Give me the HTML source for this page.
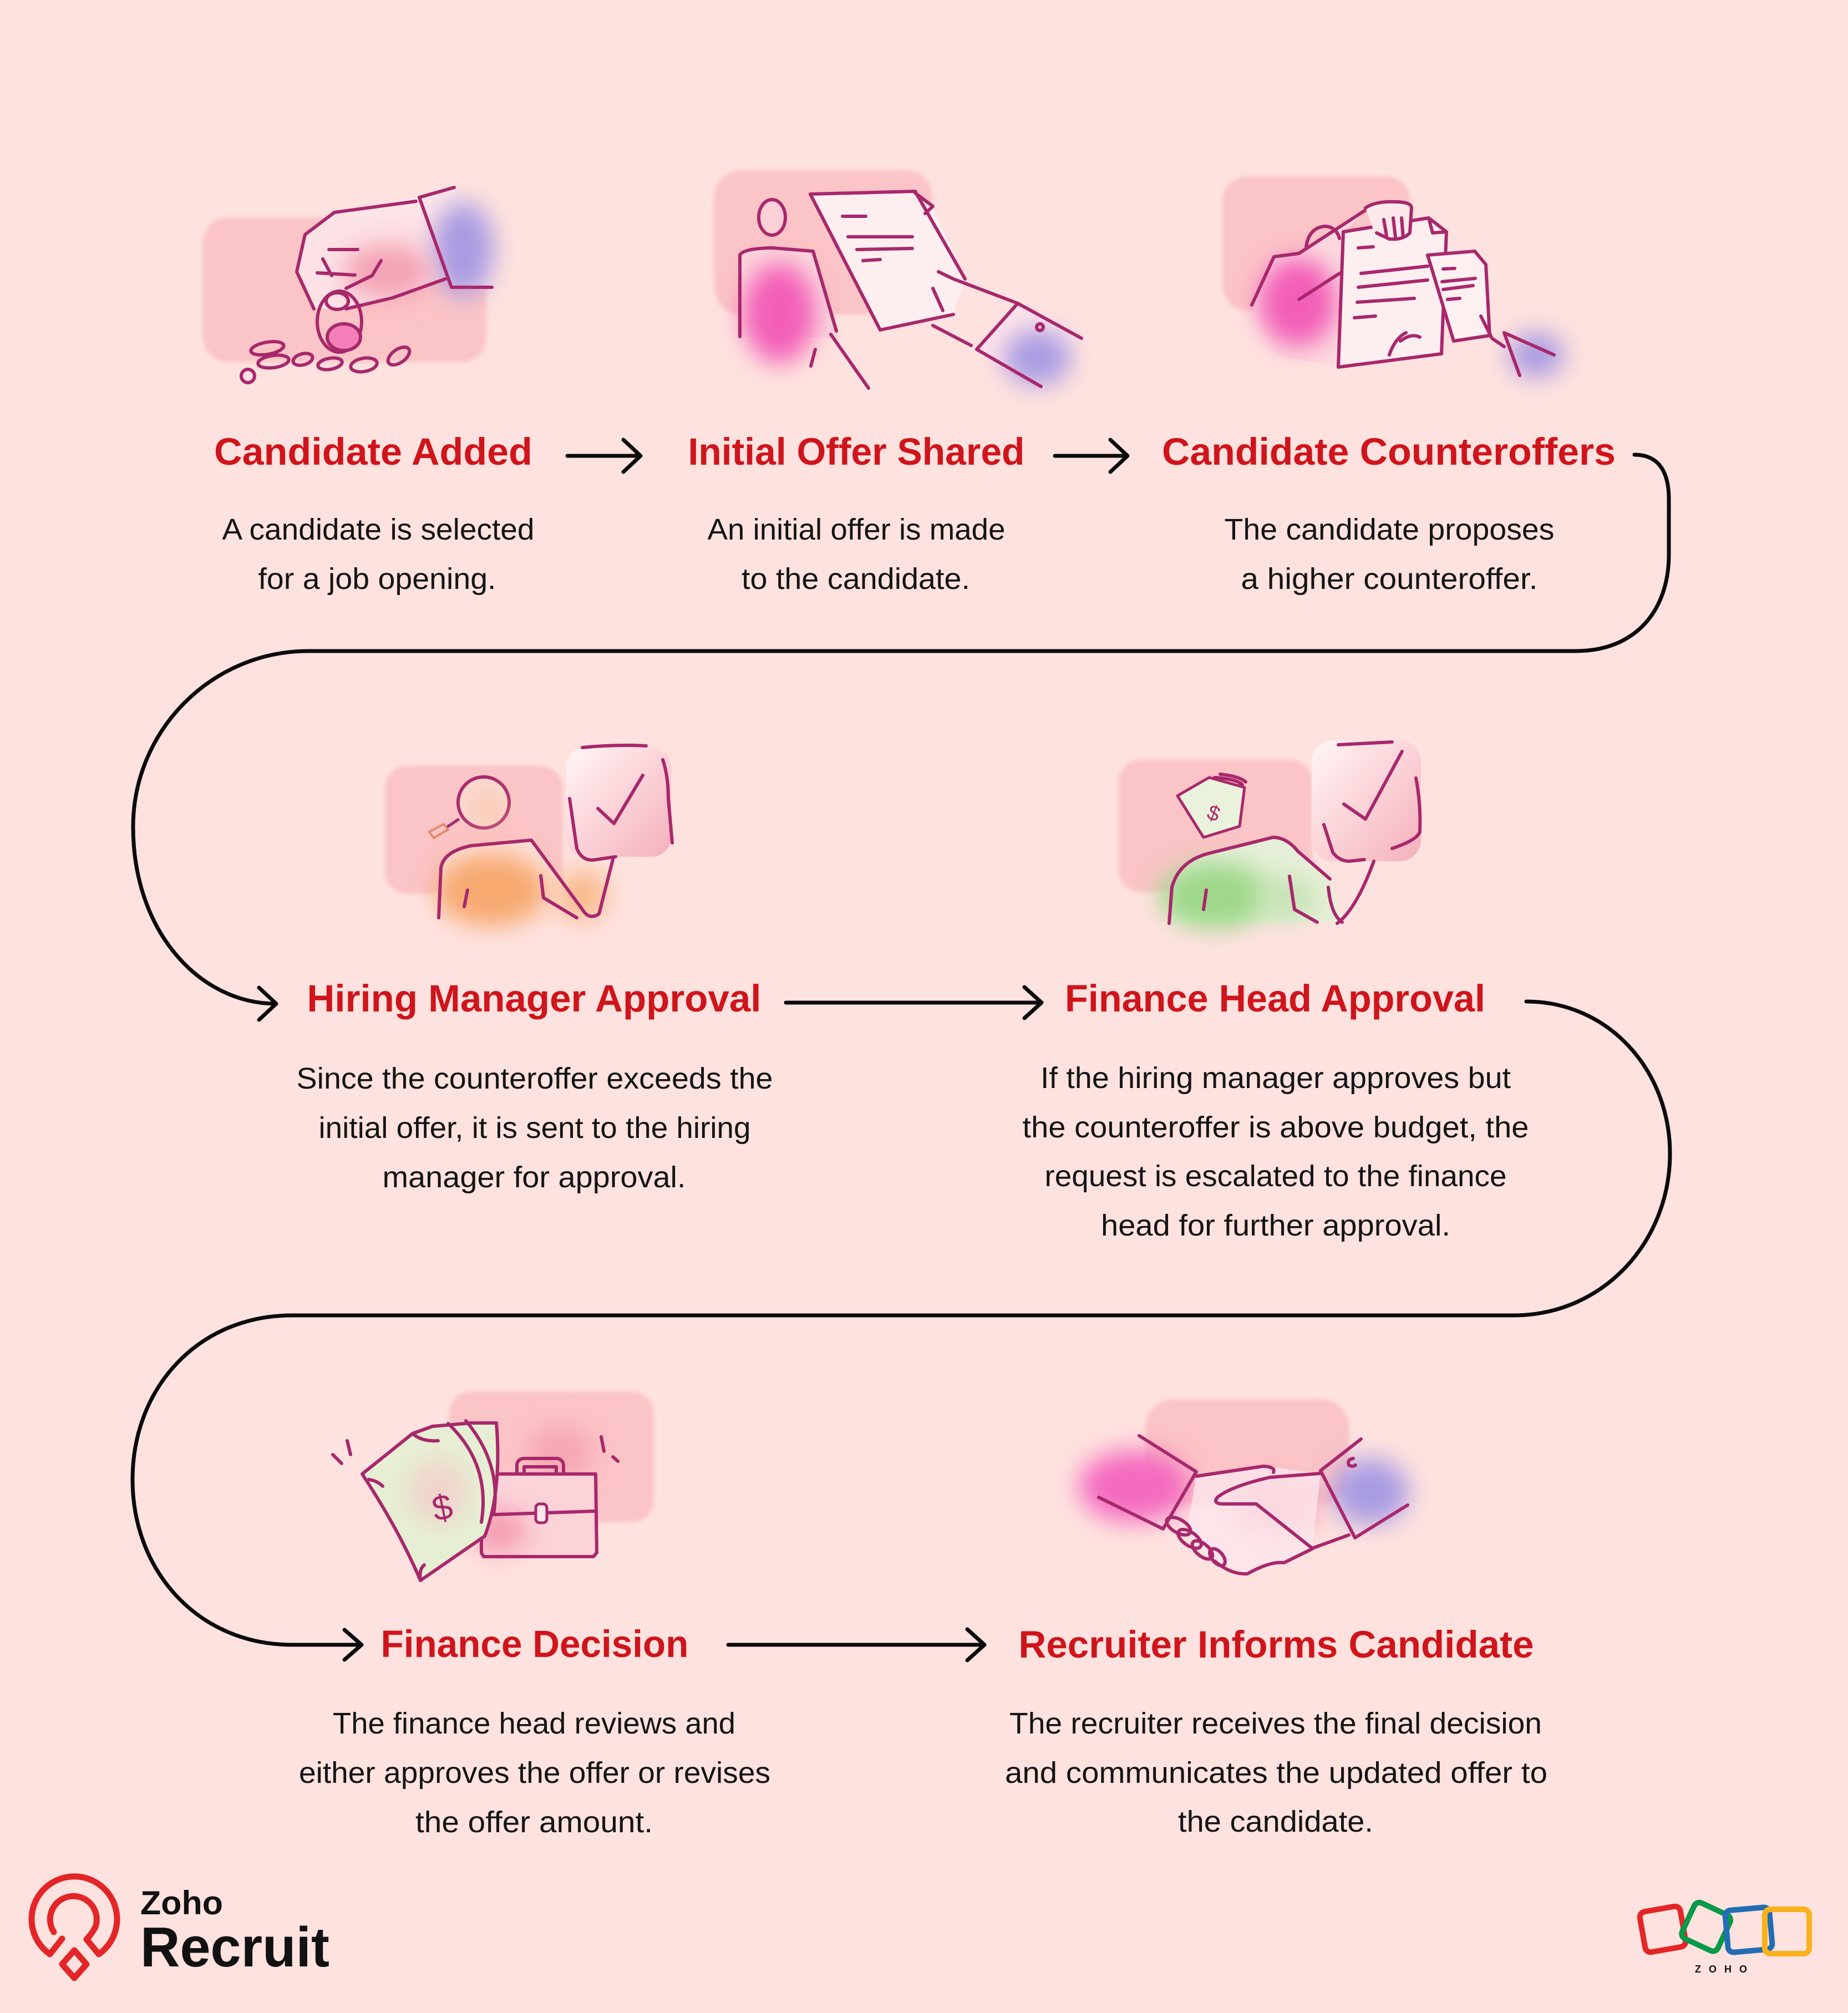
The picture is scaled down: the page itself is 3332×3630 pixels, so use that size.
<!DOCTYPE html>
<html><head><meta charset="utf-8"><style>
html,body{margin:0;padding:0;background:#fee2df;}
svg{display:block}
.t{font-family:"Liberation Sans",sans-serif;font-weight:bold;font-size:69px;fill:#d0141b}
.b{font-family:"Liberation Sans",sans-serif;font-size:54px;fill:#141414}
.c{fill:none;stroke:#0b0b0b;stroke-width:7;stroke-linecap:round;stroke-linejoin:round}
.s{fill:none;stroke:#a8286c;stroke-width:6;stroke-linecap:round;stroke-linejoin:round}
.bg{fill:#fbc4c6}
</style></head><body>
<svg width="3332" height="3630" viewBox="0 0 3332 3630" xmlns="http://www.w3.org/2000/svg">
<defs>
<filter id="bl" x="-60%" y="-60%" width="220%" height="220%"><feGaussianBlur stdDeviation="22"/></filter>
<filter id="bs" x="-20%" y="-20%" width="140%" height="140%"><feGaussianBlur stdDeviation="4"/></filter>
<linearGradient id="card" x1="0" y1="0" x2="1" y2="1"><stop offset="0" stop-color="#fff6f6"/><stop offset="0.5" stop-color="#fbd3d8"/><stop offset="1" stop-color="#f4b0bc"/></linearGradient>
</defs>
<rect width="3332" height="3630" fill="#fee2df"/>

<!-- ===== Illustration 1: Candidate Added ===== -->
<g>
<rect class="bg" x="366" y="392" width="511" height="261" rx="45" filter="url(#bs)"/>
<path d="M819 337 L756 355 L603 383 L545 430 L535 490 L566 557 L624 557 L703 538 L803 503 L814 518 L887 518 L880 400 Z" fill="#fde6e8" opacity="0.9"/>
<ellipse cx="835" cy="450" rx="55" ry="85" fill="#a99be2" filter="url(#bl)"/>
<ellipse cx="700" cy="490" rx="80" ry="50" fill="#f4a3b6" filter="url(#bl)"/>
<path class="s" d="M756 356 L819 338 M756 356 L814 518 L887 518"/>
<path class="s" d="M750 363 L603 383 L550 423 L535 490 L566 557"/>
<path class="s" d="M803 503 L708 537 L624 557"/>
<path class="s" d="M593 450 L645 450 M582 467 L598 497 M687 470 L671 497 L624 520 M572 492 L640 496"/>
<ellipse cx="612" cy="580" rx="40" ry="55" fill="none" class="s"/>
<ellipse cx="608" cy="543" rx="20" ry="15" class="s"/>
<ellipse cx="620" cy="608" rx="30" ry="24" fill="#f47fb8" stroke="#a8286c" stroke-width="6"/>
<g class="s" stroke-width="5">
<ellipse cx="482" cy="628" rx="30" ry="11" transform="rotate(-10 482 628)"/>
<ellipse cx="493" cy="652" rx="28" ry="11" transform="rotate(-8 493 652)"/>
<ellipse cx="546" cy="648" rx="18" ry="10" transform="rotate(-15 546 648)"/>
<ellipse cx="595" cy="656" rx="22" ry="10" transform="rotate(-10 595 656)"/>
<ellipse cx="656" cy="658" rx="24" ry="12" transform="rotate(-10 656 658)"/>
<ellipse cx="719" cy="642" rx="22" ry="12" transform="rotate(-35 719 642)"/>
<ellipse cx="447" cy="678" rx="12" ry="12"/>
</g>
</g>

<!-- ===== Illustration 2: Initial Offer Shared ===== -->
<g>
<rect class="bg" x="1287" y="307" width="395" height="260" rx="50" filter="url(#bs)"/>
<path d="M1329 607 L1334 460 Q1340 448 1392 447 L1466 453 L1513 610 Z" fill="#fcd6dc"/>
<ellipse cx="1405" cy="565" rx="65" ry="90" fill="#f35fb8" filter="url(#bl)"/>
<ellipse cx="1392" cy="392" rx="24" ry="32" fill="#fbd0d6" stroke="#a8286c" stroke-width="6"/>
<path d="M1461 350 L1650 345 L1682 372 L1740 503 L1719 567 L1587 595 Z" fill="#fdeff0"/>
<path class="s" d="M1461 350 L1650 345 M1650 345 L1740 503 M1650 348 L1682 372 L1668 385 M1461 350 L1587 595 L1719 567"/>
<path class="s" d="M1519 390 L1561 390 M1529 427 L1645 427 M1545 450 L1645 448 M1556 470 L1587 468"/>
<path class="s" d="M1334 607 L1334 460 Q1340 448 1392 447 L1466 453 L1508 597 M1498 603 L1566 700 M1470 630 L1462 660"/>
<path d="M1761 630 L1835 547 L1950 610 L1877 697 Z" fill="#fde3ea"/>
<ellipse cx="1870" cy="645" rx="60" ry="50" fill="#a99be2" filter="url(#bl)"/>
<path class="s" d="M1692 490 L1719 503 L1835 547 M1682 520 L1700 560 M1682 587 L1751 623"/>
<path class="s" d="M1835 547 L1950 610 M1835 547 L1761 630 L1877 697"/>
<circle cx="1875" cy="590" r="6" class="s" stroke-width="4"/>
</g>

<!-- ===== Illustration 3: Candidate Counteroffers ===== -->
<g>
<rect class="bg" x="2204" y="318" width="339" height="242" rx="45" filter="url(#bs)"/>
<path d="M2257 550 L2297 463 L2342 457 L2471 373 L2422 418 L2413 662 L2300 640 Z" fill="#fcd9de"/>
<ellipse cx="2340" cy="545" rx="70" ry="80" fill="#f35fb8" filter="url(#bl)"/>
<path class="s" d="M2355 445 Q2360 410 2390 408 Q2410 410 2415 430"/>
<path class="s" d="M2257 550 L2297 463 L2342 457 L2471 373"/>
<path class="s" d="M2342 540 L2420 490"/>
<path d="M2422 418 L2576 393 L2608 418 L2599 638 L2413 662 Z" fill="#fdeef0"/>
<path class="s" d="M2422 418 L2576 393 L2608 418 L2599 638 L2413 662 Z M2576 393 L2583 420 L2608 418"/>
<path d="M2462 375 Q2470 365 2500 362 Q2540 362 2545 372 L2540 425 Q2530 435 2500 433 L2480 425 Z" fill="#fde8ea"/>
<path class="s" d="M2462 375 Q2480 362 2520 364 Q2545 365 2545 375 L2542 420 Q2530 433 2505 431 L2482 420 M2495 396 L2500 425 M2512 393 L2516 428 M2527 393 L2530 428"/>
<path class="s" d="M2449 447 L2476 445 M2454 493 L2574 480 M2449 518 L2574 505 M2447 545 L2550 538 M2442 573 L2480 570"/>
<path class="s" d="M2525 615 Q2545 600 2560 608 M2505 640 Q2515 610 2535 600"/>
<path d="M2574 460 L2659 453 L2679 477 L2686 605 L2621 615 Z" fill="#fdf0f1"/>
<path class="s" d="M2574 460 L2659 453 L2679 477 L2686 605 L2621 615 Z M2602 485 L2623 484 M2600 508 L2660 502 M2602 522 L2656 515 M2610 540 L2632 538"/>
<ellipse cx="2770" cy="640" rx="50" ry="40" fill="#a99be2" filter="url(#bl)"/>
<path class="s" d="M2670 570 L2690 610 L2712 625 M2712 600 L2802 640 M2712 600 L2740 677"/>
</g>

<!-- ===== Row 1 texts ===== -->
<text class="t" x="673" y="838" text-anchor="middle" textLength="574" lengthAdjust="spacingAndGlyphs">Candidate Added</text>
<text class="t" x="1544" y="838" text-anchor="middle" textLength="607" lengthAdjust="spacingAndGlyphs">Initial Offer Shared</text>
<text class="t" x="2504" y="838" text-anchor="middle" textLength="818" lengthAdjust="spacingAndGlyphs">Candidate Counteroffers</text>

<text class="b" x="682" y="973" text-anchor="middle" textLength="563" lengthAdjust="spacingAndGlyphs">A candidate is selected</text>
<text class="b" x="680" y="1062" text-anchor="middle" textLength="429" lengthAdjust="spacingAndGlyphs">for a job opening.</text>
<text class="b" x="1544" y="973" text-anchor="middle" textLength="537" lengthAdjust="spacingAndGlyphs">An initial offer is made</text>
<text class="b" x="1543" y="1062" text-anchor="middle" textLength="412" lengthAdjust="spacingAndGlyphs">to the candidate.</text>
<text class="b" x="2505" y="973" text-anchor="middle" textLength="595" lengthAdjust="spacingAndGlyphs">The candidate proposes</text>
<text class="b" x="2505" y="1062" text-anchor="middle" textLength="535" lengthAdjust="spacingAndGlyphs">a higher counteroffer.</text>

<!-- ===== Connectors ===== -->
<path class="c" d="M1023 822 L1155 822 M1124 793 L1155 822 L1124 851"/>
<path class="c" d="M1902 822 L2033 822 M2002 793 L2033 822 L2002 851"/>
<path class="c" d="M2947 820 C2990 820 3009 850 3009 900 L3009 1000 C3009 1100 2950 1174 2841 1174 L556 1174 C382 1174 240 1317 240 1491 C240 1680 360 1810 498 1810"/>
<path class="c" d="M467 1781 L498 1810 L467 1839"/>
<path class="c" d="M1417 1808 L1878 1808 M1847 1780 L1878 1808 L1847 1836"/>
<path class="c" d="M2752 1806 C2900 1806 3011 1930 3011 2080 C3011 2240 2890 2372 2729 2372 L526 2372 C360 2372 239 2500 239 2668 C239 2836 360 2966 526 2966 L652 2966"/>
<path class="c" d="M621 2939 L652 2966 L621 2993"/>
<path class="c" d="M1313 2966 L1775 2966 M1744 2938 L1775 2966 L1744 2994"/>

<!-- ===== Illustration 4: Hiring Manager ===== -->
<g>
<rect class="bg" x="694" y="1381" width="321" height="231" rx="40" filter="url(#bs)"/>
<path d="M795 1660 L797 1565 Q805 1535 850 1525 L955 1515 L1050 1640 L1080 1648 L1105 1560 L1050 1560 L1000 1620 L1000 1670 Z" fill="#fde0d8"/>
<ellipse cx="885" cy="1605" rx="100" ry="65" fill="#f7a96f" filter="url(#bl)"/>
<ellipse cx="1050" cy="1615" rx="45" ry="45" fill="#f9b98a" filter="url(#bl)"/>
<rect x="1021" y="1348" width="189" height="197" rx="35" fill="url(#card)"/>
<path class="s" d="M1050 1348 Q1110 1342 1165 1345 M1195 1370 Q1205 1400 1205 1440 L1212 1520 M1027 1440 L1040 1530 Q1050 1555 1075 1550 L1110 1545"/>
<path class="s" stroke-width="7" d="M1078 1458 L1107 1485 L1159 1398"/>
<circle cx="872" cy="1447" r="46" fill="#fbd8d0" stroke="#a8286c" stroke-width="6"/>
<ellipse cx="880" cy="1460" rx="25" ry="25" fill="#f9c3a4" filter="url(#bl)"/>
<path d="M774 1500 L800 1486 L808 1496 L782 1511 Z" fill="none" stroke="#e38a6a" stroke-width="4"/>
<path d="M808 1490 L826 1478" stroke="#a8286c" stroke-width="5" stroke-linecap="round"/>
<path class="s" d="M791 1655 L795 1565 Q800 1535 850 1525 L958 1515 L1050 1640 Q1062 1660 1080 1648 L1105 1550 M843 1605 L837 1635 M975 1579 L980 1619 L1040 1655"/>
</g>

<!-- ===== Illustration 5: Finance Head ===== -->
<g>
<rect class="bg" x="2017" y="1370" width="349" height="239" rx="40" filter="url(#bs)"/>
<path d="M2108 1665 L2113 1600 Q2125 1555 2175 1540 L2295 1510 Q2320 1510 2340 1535 L2398 1585 L2420 1663 Z" fill="#e6efd8"/>
<ellipse cx="2190" cy="1615" rx="100" ry="60" fill="#9fd88a" filter="url(#bl)"/>
<ellipse cx="2320" cy="1620" rx="55" ry="40" fill="#c7e3b6" filter="url(#bl)"/>
<rect x="2365" y="1335" width="197" height="218" rx="38" fill="url(#card)"/>
<path class="s" stroke-width="7" d="M2413 1343 L2510 1338 M2553 1403 Q2562 1450 2560 1500 Q2555 1515 2510 1530 M2387 1487 L2403 1537 Q2415 1553 2433 1553 L2460 1550"/>
<path class="s" stroke-width="7" d="M2423 1450 L2462 1477 L2528 1355"/>
<path d="M2123 1435 L2180 1402 L2244 1420 L2235 1490 L2170 1510 Z" fill="#eaf2dc" stroke="#a8286c" stroke-width="5" stroke-linejoin="round"/>
<path class="s" stroke-width="4" d="M2190 1402 Q2230 1405 2240 1415 M2200 1396 Q2235 1400 2246 1410"/>
<text x="2178" y="1478" font-family="Liberation Sans, sans-serif" font-size="38" fill="#a8286c" transform="rotate(20 2185 1465)">$</text>
<path class="s" d="M2108 1665 L2113 1600 Q2125 1555 2175 1540 L2295 1510 Q2320 1510 2340 1535 L2398 1585 M2395 1600 Q2400 1650 2420 1663 M2411 1665 Q2445 1640 2477 1553 M2325 1580 L2334 1640 L2375 1663 M2175 1605 L2170 1640"/>
</g>

<!-- ===== Row 2 texts ===== -->
<text class="t" x="963" y="1824" text-anchor="middle" textLength="819" lengthAdjust="spacingAndGlyphs">Hiring Manager Approval</text>
<text class="t" x="2299" y="1824" text-anchor="middle" textLength="758" lengthAdjust="spacingAndGlyphs">Finance Head Approval</text>

<text class="b" x="964" y="1963" text-anchor="middle" textLength="859" lengthAdjust="spacingAndGlyphs">Since the counteroffer exceeds the</text>
<text class="b" x="964" y="2052" text-anchor="middle" textLength="779" lengthAdjust="spacingAndGlyphs">initial offer, it is sent to the hiring</text>
<text class="b" x="963" y="2141" text-anchor="middle" textLength="547" lengthAdjust="spacingAndGlyphs">manager for approval.</text>

<text class="b" x="2300" y="1962" text-anchor="middle" textLength="848" lengthAdjust="spacingAndGlyphs">If the hiring manager approves but</text>
<text class="b" x="2300" y="2051" text-anchor="middle" textLength="913" lengthAdjust="spacingAndGlyphs">the counteroffer is above budget, the</text>
<text class="b" x="2300" y="2139" text-anchor="middle" textLength="833" lengthAdjust="spacingAndGlyphs">request is escalated to the finance</text>
<text class="b" x="2300" y="2228" text-anchor="middle" textLength="630" lengthAdjust="spacingAndGlyphs">head for further approval.</text>

<!-- ===== Illustration 7: Finance Decision ===== -->
<g>
<rect class="bg" x="810" y="2509" width="369" height="236" rx="40" filter="url(#bs)"/>
<ellipse cx="1010" cy="2620" rx="60" ry="50" fill="#f7a6b4" filter="url(#bl)"/>
<rect x="868" y="2658" width="206" height="149" rx="8" fill="#fcd3d8"/>
<ellipse cx="900" cy="2760" rx="50" ry="40" fill="#f59db2" filter="url(#bl)"/>
<path class="s" d="M868 2658 L1074 2658 L1076 2800 L1070 2807 L872 2807 L868 2800 Z M932 2658 L932 2640 Q935 2630 945 2630 L1005 2630 Q1015 2632 1016 2642 L1016 2658 M945 2658 L945 2645 L1003 2645 L1003 2658 M868 2732 L1074 2725"/>
<rect x="966" y="2712" width="20" height="34" rx="7" fill="#fde6ea" stroke="#a8286c" stroke-width="5"/>
<path d="M653 2658 L744 2585 Q790 2560 850 2566 L895 2566 Q905 2690 874 2770 L758 2850 Q720 2760 653 2658 Z" fill="#e6efd4"/>
<ellipse cx="790" cy="2690" rx="55" ry="60" fill="#f4c9c9" filter="url(#bl)" opacity="0.7"/>
<path class="s" d="M653 2658 L744 2585 Q760 2600 790 2598 M744 2585 L780 2572 L850 2566 L895 2566 Q905 2690 874 2770 L758 2850 Q720 2760 653 2658 M808 2567 Q885 2640 868 2745 M840 2562 Q905 2640 890 2730 M665 2668 Q680 2670 690 2680 M758 2850 Q755 2830 765 2822"/>
<text x="780" y="2740" font-family="Liberation Sans, sans-serif" font-size="64" fill="#a8286c" transform="rotate(-12 800 2720)">$</text>
<path class="s" stroke-width="5" d="M600 2623 L616 2639 M626 2598 L632 2623 M1084 2591 L1089 2617 M1105 2627 L1114 2635"/>
</g>

<!-- ===== Illustration 8: Handshake ===== -->
<g>
<rect class="bg" x="2065" y="2523" width="367" height="190" rx="50" filter="url(#bs)"/>
<ellipse cx="2045" cy="2680" rx="100" ry="65" fill="#f46bc0" filter="url(#bl)"/>
<ellipse cx="2470" cy="2690" rx="70" ry="60" fill="#a99be3" filter="url(#bl)"/>
<ellipse cx="2300" cy="2720" rx="80" ry="45" fill="#f5a0b4" filter="url(#bl)"/>
<path d="M2157 2660 L2278 2644 L2381 2657 L2366 2792 L2315 2818 L2249 2838 L2190 2815 L2140 2760 Z" fill="#fde6ec" opacity="0.8"/>
<path class="s" d="M2054 2589 L2157 2654 L2097 2757 M2095 2756 L1981 2700"/>
<path class="s" d="M2454 2595 L2381 2652 L2443 2773 M2538 2714 L2443 2773"/>
<path class="s" stroke-width="4" d="M2440 2630 Q2428 2632 2432 2642 Q2438 2646 2444 2642"/>
<path class="s" d="M2157 2662 L2278 2644 Q2300 2645 2296 2655 M2381 2657 L2290 2664 Q2220 2680 2195 2700 Q2185 2713 2210 2712 L2265 2712 L2366 2792 L2432 2768 M2190 2815 Q2220 2840 2249 2838 Q2290 2815 2315 2818 L2366 2793"/>
<g class="s" stroke-width="5">
<ellipse cx="2125" cy="2752" rx="24" ry="12" transform="rotate(30 2125 2752)"/>
<ellipse cx="2145" cy="2775" rx="24" ry="12" transform="rotate(35 2145 2775)"/>
<ellipse cx="2168" cy="2795" rx="22" ry="11" transform="rotate(40 2168 2795)"/>
<ellipse cx="2195" cy="2808" rx="18" ry="10" transform="rotate(50 2195 2808)"/>
</g>
</g>

<!-- ===== Row 3 texts ===== -->
<text class="t" x="964" y="2988" text-anchor="middle" textLength="555" lengthAdjust="spacingAndGlyphs">Finance Decision</text>
<text class="t" x="2301" y="2989" text-anchor="middle" textLength="929" lengthAdjust="spacingAndGlyphs">Recruiter Informs Candidate</text>

<text class="b" x="963" y="3126" text-anchor="middle" textLength="726" lengthAdjust="spacingAndGlyphs">The finance head reviews and</text>
<text class="b" x="964" y="3215" text-anchor="middle" textLength="850" lengthAdjust="spacingAndGlyphs">either approves the offer or revises</text>
<text class="b" x="963" y="3304" text-anchor="middle" textLength="428" lengthAdjust="spacingAndGlyphs">the offer amount.</text>

<text class="b" x="2300" y="3126" text-anchor="middle" textLength="960" lengthAdjust="spacingAndGlyphs">The recruiter receives the final decision</text>
<text class="b" x="2301" y="3215" text-anchor="middle" textLength="978" lengthAdjust="spacingAndGlyphs">and communicates the updated offer to</text>
<text class="b" x="2300" y="3303" text-anchor="middle" textLength="352" lengthAdjust="spacingAndGlyphs">the candidate.</text>

<!-- ===== Zoho Recruit logo ===== -->
<g fill="none" stroke="#e42527" stroke-width="11" stroke-linecap="round" stroke-linejoin="round">
<path d="M112 3496 L90 3524 A77 77 0 1 1 178 3524 L156 3497 Q165 3488 172 3475 A42 42 0 1 0 97 3484"/>
<path d="M134 3517 L156 3542 L134 3567 L112 3542 Z"/>
</g>
<text x="253" y="3452" font-family="Liberation Sans, sans-serif" font-weight="bold" font-size="60" fill="#111" textLength="149" lengthAdjust="spacingAndGlyphs">Zoho</text>
<text x="253" y="3546" font-family="Liberation Sans, sans-serif" font-weight="bold" font-size="101" fill="#111" textLength="341" lengthAdjust="spacingAndGlyphs">Recruit</text>

<!-- ===== ZOHO logo ===== -->
<g fill="none" stroke-width="10">
<rect x="2961" y="3442" width="74" height="74" rx="10" stroke="#e42527" transform="rotate(-10 2998 3479)"/>
<rect x="3041" y="3439" width="71" height="71" rx="10" stroke="#089949" transform="rotate(25 3076 3474)"/>
<rect x="3113" y="3442" width="80" height="76" rx="10" stroke="#226db4" transform="rotate(-5 3153 3480)"/>
<rect x="3182" y="3443" width="80" height="80" rx="10" stroke="#f9b21d"/>
</g>
<text x="3110" y="3557" text-anchor="middle" font-family="Liberation Sans, sans-serif" font-weight="bold" font-size="18" fill="#111" letter-spacing="14">ZOHO</text>
</svg>
</body></html>
